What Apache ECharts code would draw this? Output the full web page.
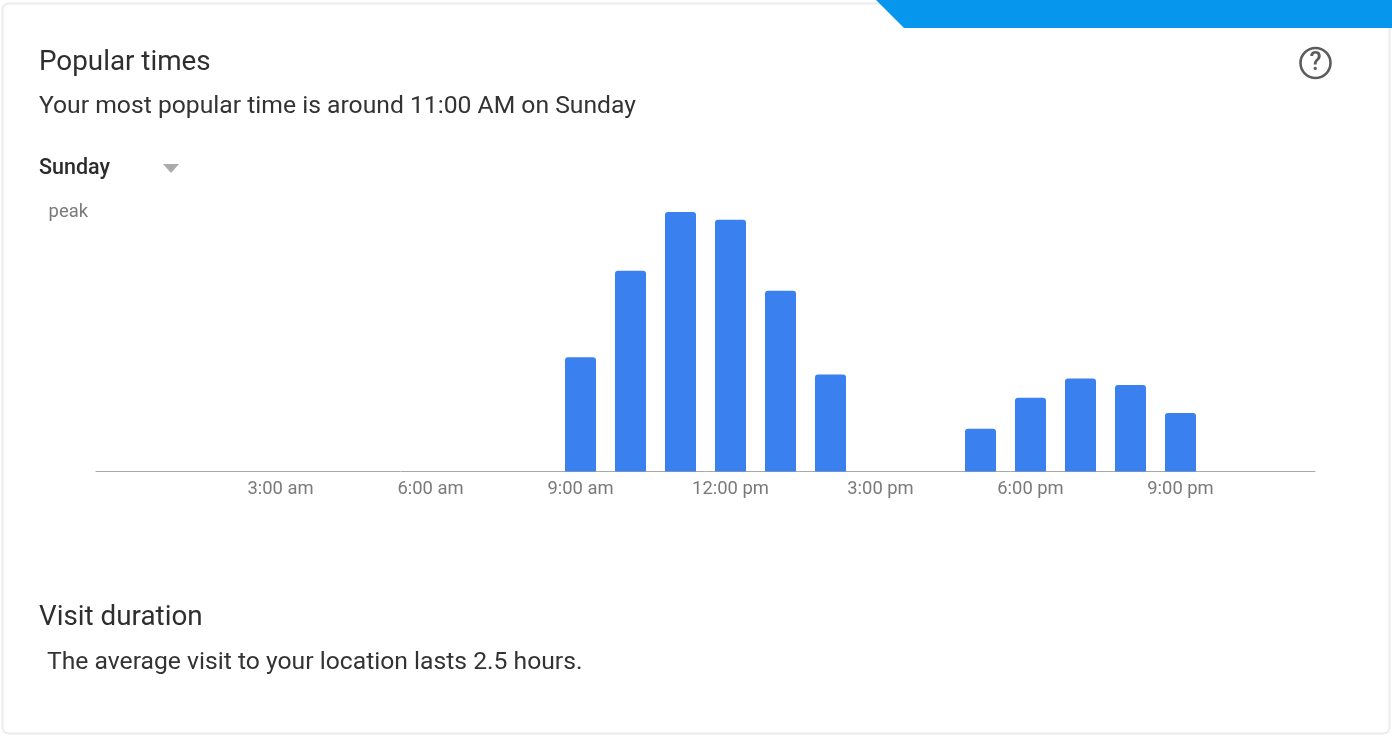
<!DOCTYPE html>
<html><head><meta charset="utf-8">
<style>html,body{margin:0;padding:0;background:#fff}#c{width:1392px;height:735px}</style>
<script src="https://cdn.jsdelivr.net/npm/echarts@6/dist/echarts.min.js"></script>
</head><body><div id="c"></div>
<script>
const hours = [9, 10, 11, 12, 13, 14, 17, 18, 19, 20, 21];
const busyness = [44, 77.4, 100, 97, 69.7, 37.4, 16.5, 28.4, 35.8, 33.3, 22.5];
const tickHours = [3, 6, 9, 12, 15, 18, 21];
const tickLabels = ['3:00 am', '6:00 am', '9:00 am', '12:00 pm', '3:00 pm', '6:00 pm', '9:00 pm'];
const peakLabel = 'peak';
const FONT = 'Roboto';
const t = (x, y, text, size, fill, weight) => ({type:'text', x, y, silent:true,
  style:{text, font:`${weight||400} ${size}px ${FONT}`, fill, textVerticalAlign:'middle'}});
const chart = echarts.init(document.getElementById('c'), null, {renderer:'canvas'});
chart.setOption({
  animation:false,
  grid:{left:96, right:77, top:212, bottom:263.5, containLabel:false},
  xAxis:{type:'value', min:-0.69, max:23.69, splitLine:{show:false},
    axisLine:{show:true, onZero:false, lineStyle:{color:'#a8a8a8', width:1}},
    axisTick:{show:false},
    axisLabel:{customValues:tickHours, margin:9, fontFamily:FONT, fontSize:18.4, color:'#7a7a7a',
      formatter:v => tickLabels[tickHours.indexOf(v)]}},
  yAxis:{type:'value', min:0, max:100, splitLine:{show:false}, axisLine:{show:false}, axisTick:{show:false},
    axisLabel:{customValues:[100], margin:8, fontFamily:FONT, fontSize:18.4, color:'#7a7a7a', formatter:()=>peakLabel}},
  series:[{type:'bar', barWidth:31, data:hours.map((h,i)=>[h,busyness[i]]),
    itemStyle:{color:'#3a80ee', borderRadius:[3,3,0,0]}}],
  graphic:[
    {type:'rect', z:-1, shape:{x:2.5,y:3.5,width:1387,height:730,r:6}, style:{fill:'#fff',stroke:'#ececec',lineWidth:2}},
    {type:'polygon', shape:{points:[[876,0],[1392,0],[1392,28],[904,28]]}, style:{fill:'#0696ee'}},
    t(39,63,'Popular times',27.8,'#2e2e2e'),
    t(39,107,'Your most popular time is around 11:00 AM on Sunday',24.7,'#333333'),
    t(39,169,'Sunday',21.5,'#2b2b2b',500),
    {type:'polygon', shape:{points:[[163,164],[179,164],[171,173]]}, style:{fill:'#ababab'}},
    {type:'circle', shape:{cx:1315.5,cy:63,r:15}, style:{fill:'none',stroke:'#5c5c5c',lineWidth:2.6}},
    {type:'text', x:1315.5, y:64, style:{text:'?',font:`500 25px ${FONT}`,fill:'#5c5c5c',textAlign:'center',textVerticalAlign:'middle'}},
    t(39,618,'Visit duration',27.8,'#2e2e2e'),
    t(47,663,'The average visit to your location lasts 2.5 hours.',24.7,'#333333')
  ]
});
</script></body></html>
